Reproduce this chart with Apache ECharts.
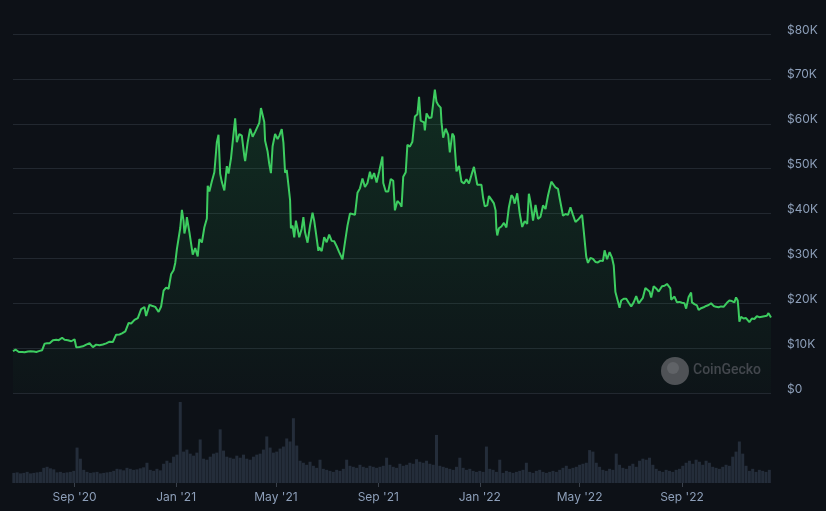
<!DOCTYPE html>
<html>
<head>
<meta charset="utf-8">
<script src="https://cdn.jsdelivr.net/npm/echarts@6/dist/echarts.min.js"></script>
<style>
  html, body { margin: 0; padding: 0; background: #0d1117; }
  #chart { width: 826px; height: 511px; }
</style>
</head>
<body>
<div id="chart"></div>
<script>
// ---- data ----
const axisStart = '2020-06-19';
const axisEnd = '2022-12-17';
const tickDates = ['2020-09-01', '2021-01-01', '2021-05-01', '2021-09-01', '2022-01-01', '2022-05-01', '2022-09-01'];
const monthNames = ['Jan','Feb','Mar','Apr','May','Jun','Jul','Aug','Sep','Oct','Nov','Dec'];
const priceTicks = [0, 10000, 20000, 30000, 40000, 50000, 60000, 70000, 80000];

const pricePoints = [
  ['2020-06-19',9300],['2020-06-22',9680],['2020-06-26',9150],['2020-06-30',9140],
  ['2020-07-03',9070],['2020-07-07',9250],['2020-07-10',9280],['2020-07-14',9250],['2020-07-17',9150],['2020-07-21',9390],['2020-07-24',9540],['2020-07-27',11000],['2020-07-30',11100],
  ['2020-08-02',11070],['2020-08-06',11750],['2020-08-10',11880],['2020-08-13',11770],['2020-08-17',12300],['2020-08-20',11860],['2020-08-24',11750],['2020-08-28',11530],
  ['2020-09-01',11970],['2020-09-03',10200],['2020-09-07',10250],['2020-09-11',10400],['2020-09-15',10790],['2020-09-19',11080],['2020-09-23',10230],['2020-09-27',10780],
  ['2020-10-01',10620],['2020-10-05',10800],['2020-10-09',11060],['2020-10-13',11430],['2020-10-17',11360],['2020-10-21',12990],['2020-10-25',13030],['2020-10-28',13270],
  ['2020-11-01',13740],['2020-11-05',15600],['2020-11-08',15480],['2020-11-12',16300],['2020-11-16',16700],['2020-11-20',18680],['2020-11-24',19160],['2020-11-26',17150],['2020-11-30',19630],
  ['2020-12-03',19440],['2020-12-07',19190],['2020-12-11',18060],['2020-12-14',19270],['2020-12-17',22800],['2020-12-20',23480],['2020-12-23',23240],['2020-12-26',26440],['2020-12-29',27360],['2020-12-31',28990],
  ['2021-01-02',32100],['2021-01-04',31970],['2021-01-06',36770],['2021-01-08',40800],['2021-01-10',38350],['2021-01-11',35560],['2021-01-13',37320],['2021-01-14',39190],['2021-01-17',35850],['2021-01-19',35900],['2021-01-21',30830],['2021-01-24',32280],['2021-01-27',30430],['2021-01-29',34320],
  ['2021-02-01',33540],['2021-02-04',36930],['2021-02-07',38900],['2021-02-08',46200],['2021-02-10',44880],['2021-02-13',47170],['2021-02-16',49200],['2021-02-19',55900],['2021-02-21',57540],['2021-02-23',48820],['2021-02-25',47000],['2021-02-28',45140],
  ['2021-03-03',50540],['2021-03-05',48900],['2021-03-08',52300],['2021-03-10',55900],['2021-03-13',61200],['2021-03-15',55900],['2021-03-18',57700],['2021-03-21',57350],['2021-03-24',52800],['2021-03-25',51700],['2021-03-28',55800],['2021-03-31',58900],
  ['2021-04-03',57100],['2021-04-06',58200],['2021-04-08',58000],['2021-04-11',60200],['2021-04-13',63500],['2021-04-15',63100],['2021-04-17',60400],['2021-04-18',56200],['2021-04-21',53800],['2021-04-23',51000],['2021-04-25',49000],['2021-04-27',55000],['2021-04-30',57700],
  ['2021-05-03',56600],['2021-05-05',57300],['2021-05-08',58800],['2021-05-10',55800],['2021-05-12',49100],['2021-05-14',49700],['2021-05-16',46400],['2021-05-18',43000],['2021-05-19',36700],['2021-05-21',37300],['2021-05-23',34700],['2021-05-25',38400],['2021-05-27',38400],['2021-05-29',34700],
  ['2021-06-01',36600],['2021-06-03',39200],['2021-06-05',35800],['2021-06-08',33500],['2021-06-11',37300],['2021-06-14',40200],['2021-06-16',38400],['2021-06-18',35800],['2021-06-21',31700],['2021-06-22',32500],['2021-06-25',31600],['2021-06-28',34700],
  ['2021-07-01',33600],['2021-07-04',35300],['2021-07-07',33900],['2021-07-10',33800],['2021-07-13',32700],['2021-07-16',31400],['2021-07-20',29800],['2021-07-23',33600],['2021-07-26',37300],['2021-07-29',40000],
  ['2021-08-01',39900],['2021-08-04',39700],['2021-08-07',44600],['2021-08-10',45600],['2021-08-13',47800],['2021-08-16',45900],['2021-08-19',46800],['2021-08-22',49300],['2021-08-24',47700],['2021-08-27',49000],['2021-08-30',46900],
  ['2021-09-02',49300],['2021-09-06',52700],['2021-09-07',46800],['2021-09-10',44900],['2021-09-13',44900],['2021-09-16',47700],['2021-09-19',47300],['2021-09-21',40700],['2021-09-24',42800],['2021-09-27',42200],['2021-09-29',41500],
  ['2021-10-01',48200],['2021-10-04',49200],['2021-10-06',55300],['2021-10-09',54900],['2021-10-12',56000],['2021-10-15',61600],['2021-10-18',62100],['2021-10-20',66000],['2021-10-22',60700],['2021-10-24',60900],['2021-10-26',60300],['2021-10-27',58500],['2021-10-29',62300],
  ['2021-11-01',61300],['2021-11-04',61400],['2021-11-06',61500],['2021-11-08',67600],['2021-11-10',64900],['2021-11-12',64200],['2021-11-15',63600],['2021-11-16',60300],['2021-11-18',56900],['2021-11-21',58900],['2021-11-24',57600],['2021-11-26',53600],['2021-11-29',57800],
  ['2021-12-01',57200],['2021-12-04',49400],['2021-12-07',50600],['2021-12-10',47100],['2021-12-13',46700],['2021-12-16',47600],['2021-12-19',46700],['2021-12-22',48600],['2021-12-25',50400],['2021-12-27',50800],['2021-12-29',46400],['2021-12-31',46300],
  ['2022-01-03',46400],['2022-01-05',43500],['2022-01-07',41600],['2022-01-10',41800],['2022-01-12',43900],['2022-01-15',43100],['2022-01-18',42250],['2022-01-20',40700],['2022-01-21',36500],['2022-01-22',35100],['2022-01-24',36700],['2022-01-27',37100],['2022-01-30',37900],
  ['2022-02-02',36900],['2022-02-05',41400],['2022-02-08',44100],['2022-02-10',43600],['2022-02-12',42200],['2022-02-15',44500],['2022-02-18',40000],['2022-02-21',37000],['2022-02-24',38300],['2022-02-27',37700],
  ['2022-03-01',44400],['2022-03-03',42500],['2022-03-06',38400],['2022-03-09',41900],['2022-03-12',38800],['2022-03-15',39300],['2022-03-18',41800],['2022-03-21',41000],['2022-03-24',44000],['2022-03-28',47100],['2022-03-30',47100],
  ['2022-04-02',45800],['2022-04-05',45500],['2022-04-07',43400],['2022-04-11',39500],['2022-04-14',39900],['2022-04-17',39700],['2022-04-20',41400],['2022-04-23',39700],['2022-04-26',38100],['2022-04-29',38600],
  ['2022-05-01',38500],['2022-05-04',39700],['2022-05-06',36000],['2022-05-09',30300],['2022-05-11',29000],['2022-05-14',30100],['2022-05-17',29900],['2022-05-20',29200],['2022-05-23',29100],['2022-05-26',29500],['2022-05-29',29400],['2022-05-31',31800],
  ['2022-06-03',29800],['2022-06-06',31400],['2022-06-09',30100],['2022-06-11',28400],['2022-06-13',22500],['2022-06-15',22600],['2022-06-18',19000],['2022-06-20',20600],['2022-06-23',21000],['2022-06-26',21000],['2022-06-29',20100],
  ['2022-07-02',19300],['2022-07-05',20200],['2022-07-08',21600],['2022-07-11',19970],['2022-07-13',20200],['2022-07-16',21200],['2022-07-19',23400],['2022-07-21',23200],['2022-07-24',22600],['2022-07-26',21300],['2022-07-29',23800],
  ['2022-08-01',23300],['2022-08-04',22600],['2022-08-08',23800],['2022-08-11',23900],['2022-08-14',24300],['2022-08-16',23900],['2022-08-18',23300],['2022-08-19',20800],['2022-08-23',21500],['2022-08-26',20200],['2022-08-29',20300],
  ['2022-09-01',20100],['2022-09-04',20000],['2022-09-06',18800],['2022-09-09',21400],['2022-09-12',22400],['2022-09-13',20200],['2022-09-16',19800],['2022-09-19',19500],['2022-09-21',18500],['2022-09-24',18900],['2022-09-27',19100],['2022-09-30',19400],
  ['2022-10-03',19600],['2022-10-06',20000],['2022-10-09',19400],['2022-10-12',19200],['2022-10-15',19100],['2022-10-18',19300],['2022-10-21',19200],['2022-10-25',20100],['2022-10-28',20600],['2022-10-31',20500],
  ['2022-11-03',20200],['2022-11-05',21300],['2022-11-07',20600],['2022-11-08',18500],['2022-11-09',15900],['2022-11-11',17000],['2022-11-14',16600],['2022-11-17',16700],['2022-11-21',15800],['2022-11-24',16600],['2022-11-27',16500],['2022-11-30',17100],
  ['2022-12-03',16900],['2022-12-06',17000],['2022-12-09',17100],['2022-12-12',17200],['2022-12-14',17800],['2022-12-17',16800]
];

// trading volume (billions USD), one value every 4 days starting 2020-06-20
const volumeStart = '2020-06-20';
const volumeStepDays = 4;
const volumeValues = [
  20,21,19,20,22,19,20,21,22,30,
  32,29,27,21,22,20,21,22,24,70,
  48,26,22,20,21,22,19,20,21,22,
  24,28,27,25,30,28,26,27,29,31,
  40,26,24,28,25,38,44,40,52,56,
  160,62,66,58,54,60,86,48,46,52,
  58,60,106,64,52,50,48,54,50,56,
  48,46,52,56,58,66,92,70,60,62,
  68,72,88,82,128,74,44,40,36,42,
  34,30,46,28,26,24,22,26,24,28,
  46,34,32,30,36,32,30,34,32,30,
  32,34,50,36,32,30,38,34,36,40,
  38,47,42,40,44,38,36,95,34,32,
  30,28,26,32,50,30,26,28,24,22,
  24,22,72,28,26,22,46,20,24,22,
  20,22,24,26,40,22,20,24,26,22,
  20,22,24,22,26,30,34,28,30,32,
  36,38,40,65,62,40,32,26,24,28,
  26,58,36,30,28,34,38,32,44,48,
  46,50,36,28,24,22,26,24,22,26,
  28,34,40,44,38,46,42,36,44,40,
  32,30,28,32,36,34,52,62,82,58,
  34,24,28,22,26,24,22,26
];

// ---- build chart ----
const DAY = 86400000;
const ts = s => Date.parse(s + 'T00:00:00Z');
const priceData = pricePoints.map(p => [ts(p[0]), p[1]]);
const volumeData = volumeValues.map((v, i) => [ts(volumeStart) + i * volumeStepDays * DAY, v]);
const tickValues = tickDates.map(ts);
const xMin = ts(axisStart), xMax = ts(axisEnd);

const labelColor = '#8d9fb9';
const fontFamily = 'Inter, "Noto Sans", sans-serif';
const fmtDate = (val) => { const d = new Date(val); return monthNames[d.getUTCMonth()] + " '" + String(d.getUTCFullYear()).slice(2); };

const chart = echarts.init(document.getElementById('chart'), null, { renderer: 'canvas' });
chart.setOption({
  backgroundColor: '#0d1117',
  animation: false,
  grid: [
    { left: 13, right: 55, top: 34, height: 359 },
    { left: 13, right: 55, top: 400, height: 83 }
  ],
  xAxis: [
    {
      type: 'value', gridIndex: 0, min: xMin, max: xMax,
      axisLine: { show: false }, axisTick: { show: false }, axisLabel: { show: false }, splitLine: { show: false }
    },
    {
      type: 'value', gridIndex: 1, min: xMin, max: xMax,
      axisLine: { show: false },
      axisTick: { show: true, customValues: tickValues, length: 4, lineStyle: { color: '#3a414b' } },
      axisLabel: {
        show: true, customValues: tickValues, color: labelColor, fontSize: 12, fontFamily, margin: 8,
        showMinLabel: true, showMaxLabel: true,
        formatter: fmtDate
      },
      splitLine: { show: false }
    }
  ],
  yAxis: [
    {
      type: 'value', gridIndex: 0, position: 'right', min: priceTicks[0], max: priceTicks[priceTicks.length - 1], interval: 10000,
      axisLine: { show: false }, axisTick: { show: false },
      axisLabel: {
        color: labelColor, fontSize: 12, fontFamily, margin: 16, verticalAlign: 'bottom', lineHeight: 8,
        formatter: v => v === 0 ? '$0' : '$' + (v / 1000) + 'K'
      },
      splitLine: { lineStyle: { color: '#222830', width: 1 } }
    },
    {
      type: 'value', gridIndex: 1, min: 0, max: 164,
      axisLine: { show: false }, axisTick: { show: false }, axisLabel: { show: false }, splitLine: { show: false }
    }
  ],
  series: [
    {
      type: 'line', xAxisIndex: 0, yAxisIndex: 0, data: priceData, showSymbol: false, symbol: 'none',
      lineStyle: { color: '#3dcc60', width: 2 },
      itemStyle: { color: '#3dcc60' },
      areaStyle: {
        color: new echarts.graphic.LinearGradient(0, 0, 0, 1, [
          { offset: 0, color: 'rgba(34,170,80,0.26)' },
          { offset: 1, color: 'rgba(34,170,80,0.03)' }
        ])
      },
      z: 3
    },
    {
      type: 'bar', xAxisIndex: 1, yAxisIndex: 1, data: volumeData, barWidth: 3,
      itemStyle: { color: '#242d3a' }
    }
  ],
  graphic: [
    { type: 'circle', left: 661, top: 357, shape: { r: 14 }, style: { fill: '#4f5256' }, z: 10 },
    { type: 'circle', left: 667, top: 362, shape: { r: 6 }, style: { fill: '#606367' }, z: 11 },
    { type: 'text', left: 693, top: 363, style: { text: 'CoinGecko', fill: '#43474d', font: '500 14px Roboto, "Noto Sans", sans-serif' }, z: 10 }
  ]
});
</script>
</body>
</html>
